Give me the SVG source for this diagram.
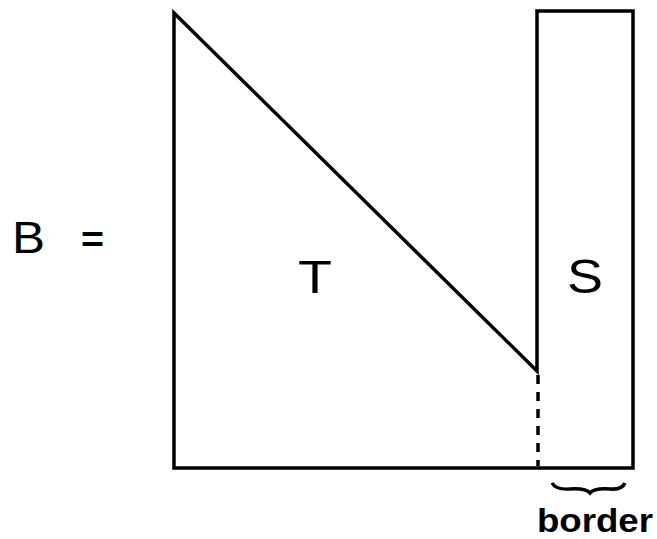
<svg xmlns="http://www.w3.org/2000/svg" width="657" height="539" viewBox="0 0 657 539">
<style>
.ln{fill:none;stroke:#000;stroke-width:3.5;stroke-linejoin:miter;stroke-linecap:square}
.lbl{font-family:"Liberation Sans",Arial,sans-serif;fill:#000}
</style>
<rect width="657" height="539" fill="#fff"/>
<g id="label-B">
<text class="lbl" x="12" y="253" font-size="44" textLength="33" lengthAdjust="spacingAndGlyphs">B</text>
<text class="lbl" x="81" y="252" font-size="36" font-weight="bold" textLength="23" lengthAdjust="spacingAndGlyphs">=</text>
</g>
<g id="T">
<path class="ln" d="M174,468 L174,13 L537,371 L537,11 L633,11 L633,468 Z"/>
<text class="lbl" x="298" y="293" font-size="47" textLength="34" lengthAdjust="spacingAndGlyphs">T</text>
</g>
<g id="S">
<text class="lbl" x="567" y="293" font-size="48" textLength="36" lengthAdjust="spacingAndGlyphs">S</text>
</g>
<g id="connectors">
<line x1="538" y1="375" x2="538" y2="466" stroke="#000" stroke-width="3.5" stroke-dasharray="9,8"/>
</g>
<g id="border">
<path d="M552,483 Q556,490 570,489 Q586,488 590,493 Q594,488 610,489 Q622,490 625,483" fill="none" stroke="#000" stroke-width="3.5"/>
<text class="lbl" x="537" y="532" font-size="34" font-weight="bold" textLength="116" lengthAdjust="spacingAndGlyphs">border</text>
</g>
</svg>
